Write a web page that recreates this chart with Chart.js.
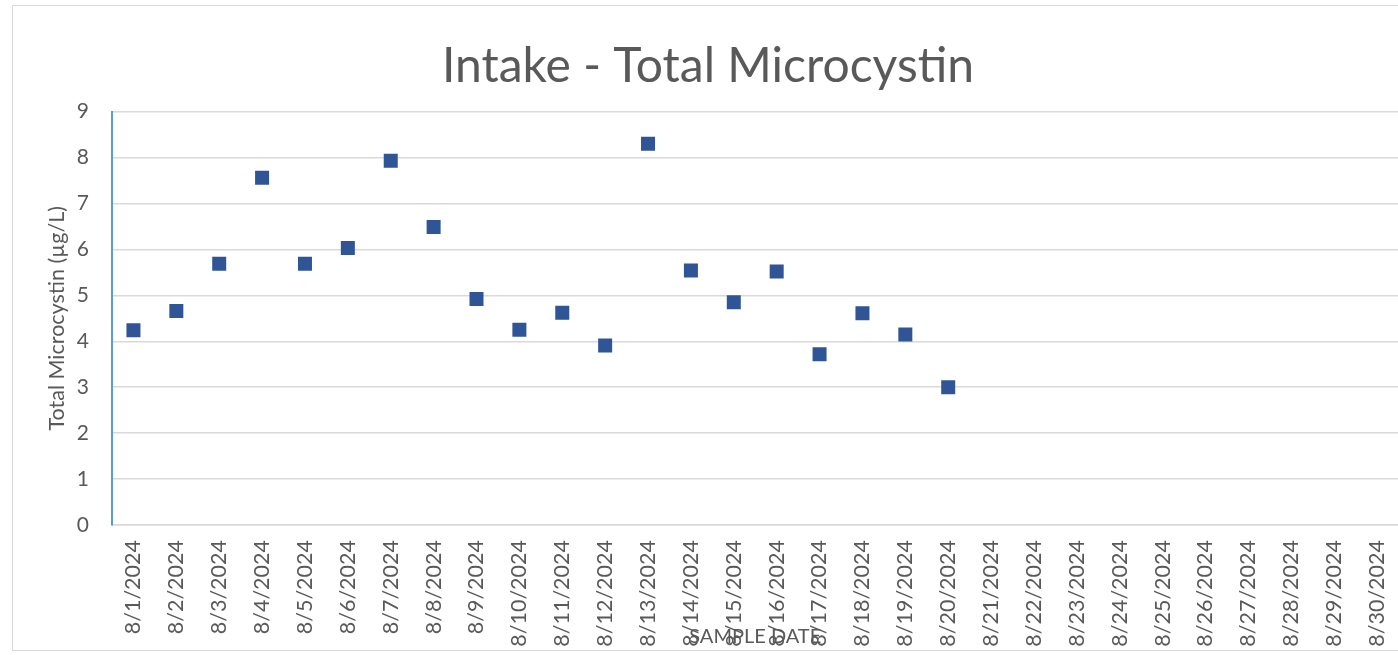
<!DOCTYPE html>
<html>
<head>
<meta charset="utf-8">
<script src="https://cdn.jsdelivr.net/npm/chart.js@4/dist/chart.umd.min.js"></script>
<style>
    html, body { margin: 0; padding: 0; background: #fff; overflow: hidden; }
    #wrap { position: relative; width: 1398px; height: 655px; overflow: hidden; }
    #frame {
        position: absolute; left: 12px; top: 5px; width: 1420px; height: 646px;
        border: 1.5px solid #D9D9D9; box-sizing: border-box; pointer-events: none;
    }
    canvas { position: absolute; left: 0; top: 0; }
</style>
</head>
<body>
<div id="wrap">
    <canvas id="chart" width="1418" height="655"></canvas>
    <div id="frame"></div>
</div>
<script>
// Intake - Total Microcystin

// Sample dates (x categories)
const sampleDates = [
    '8/1/2024', '8/2/2024', '8/3/2024', '8/4/2024', '8/5/2024', '8/6/2024',
    '8/7/2024', '8/8/2024', '8/9/2024', '8/10/2024', '8/11/2024', '8/12/2024',
    '8/13/2024', '8/14/2024', '8/15/2024', '8/16/2024', '8/17/2024', '8/18/2024',
    '8/19/2024', '8/20/2024', '8/21/2024', '8/22/2024', '8/23/2024', '8/24/2024',
    '8/25/2024', '8/26/2024', '8/27/2024', '8/28/2024', '8/29/2024', '8/30/2024'
];

// Total microcystin, µg/L (no samples yet after 8/20)
const microcystin = [
    4.24, 4.66, 5.69, 7.56, 5.69, 6.03,
    7.93, 6.49, 4.92, 4.25, 4.62, 3.91,
    8.30, 5.54, 4.85, 5.52, 3.72, 4.61,
    4.15, 3.00, null, null, null, null,
    null, null, null, null, null, null
];

// Y axis range
const yMin = 0;
const yMax = 9;
const yStep = 1;

const textColor = '#595959';
const fontFamily = 'Lato, "Open Sans", sans-serif';

const ctx = document.getElementById('chart');
const chart = new Chart(ctx, {
    type: 'line',
    data: {
        labels: sampleDates,
        datasets: [{
            label: 'Total Microcystin',
            data: microcystin,
            showLine: false,
            pointStyle: 'rect',
            pointRadius: 9.9,
            pointHoverRadius: 9.9,
            pointBorderWidth: 0,
            pointBackgroundColor: '#2F5597',
            borderColor: '#2F5597'
        }]
    },
    options: {
        responsive: false,
        animation: false,
        layout: {
            padding: { left: 0, right: 2, top: 0, bottom: 0 }
        },
        plugins: {
            legend: { display: false },
            tooltip: { enabled: false },
            title: {
                display: true,
                text: 'Intake - Total Microcystin',
                color: textColor,
                font: { family: fontFamily, size: 48, weight: 'normal' },
                padding: { top: 38, bottom: 16 }
            }
        },
        scales: {
            x: {
                offset: true,
                grid: { display: false, drawTicks: false },
                border: { color: '#D9D9D9', width: 1.5 },
                ticks: {
                    color: textColor,
                    font: { family: fontFamily, size: 21.5 },
                    minRotation: 90,
                    maxRotation: 90,
                    autoSkip: false,
                    padding: 15
                },
                title: {
                    display: true,
                    text: 'SAMPLE DATE',
                    color: textColor,
                    font: { family: fontFamily, size: 20 },
                    padding: { top: 0, bottom: 6 }
                },
                afterFit: (scale) => { scale.height = 130; }
            },
            y: {
                min: yMin,
                max: yMax,
                grid: { color: '#D9D9D9', lineWidth: 1.5, drawTicks: false },
                border: { color: '#5B9BD5', width: 2 },
                ticks: {
                    stepSize: yStep,
                    color: textColor,
                    font: { family: fontFamily, size: 21 },
                    padding: 23
                },
                title: {
                    display: true,
                    text: 'Total Microcystin (µg/L)',
                    color: textColor,
                    font: { family: fontFamily, size: 21.5 },
                    padding: { top: 44, bottom: 0 }
                },
                afterFit: (scale) => { scale.width = 112; }
            }
        }
    }
});
</script>
</body>
</html>
